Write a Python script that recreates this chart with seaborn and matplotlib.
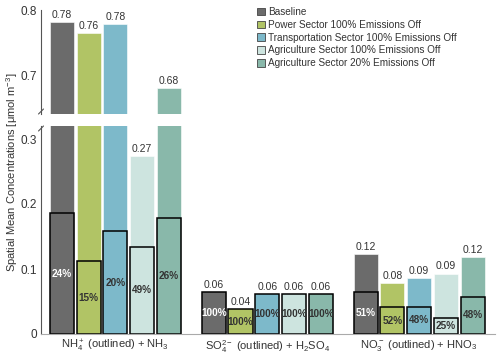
import pandas as pd
import matplotlib
matplotlib.use("Agg")
import matplotlib.pyplot as plt
from matplotlib.patches import Patch
import seaborn as sns

sns.set_style("white")
plt.rcParams["font.family"] = ["Liberation Sans", "DejaVu Sans"]
plt.rcParams["mathtext.fontset"] = "custom"
plt.rcParams["mathtext.rm"] = "Liberation Sans"
plt.rcParams["mathtext.it"] = "Liberation Sans:italic"
plt.rcParams["mathtext.bf"] = "Liberation Sans:bold"

species = ["NH$_4^+$ (outlined) + NH$_3$",
           "SO$_4^{2-}$ (outlined) + H$_2$SO$_4$",
           "NO$_3^-$ (outlined) + HNO$_3$"]
scenarios = ["Baseline",
             "Power Sector 100% Emissions Off",
             "Transportation Sector 100% Emissions Off",
             "Agriculture Sector 100% Emissions Off",
             "Agriculture Sector 20% Emissions Off"]
colors = ["#6b6b6b", "#b1c465", "#7db9ca", "#cde4df", "#89b8aa"]

# total (gas + particle) per species, one list per scenario
total = {
    "Baseline":                                  [0.782, 0.064, 0.123],
    "Power Sector 100% Emissions Off":           [0.764, 0.038, 0.079],
    "Transportation Sector 100% Emissions Off":  [0.778, 0.062, 0.086],
    "Agriculture Sector 100% Emissions Off":     [0.274, 0.062, 0.093],
    "Agriculture Sector 20% Emissions Off":      [0.680, 0.062, 0.118],
}
# particle part (outlined bars)
particle = {
    "Baseline":                                  [0.186, 0.064, 0.064],
    "Power Sector 100% Emissions Off":           [0.112, 0.038, 0.0415],
    "Transportation Sector 100% Emissions Off":  [0.158, 0.062, 0.042],
    "Agriculture Sector 100% Emissions Off":     [0.134, 0.062, 0.024],
    "Agriculture Sector 20% Emissions Off":      [0.178, 0.062, 0.057],
}
pct = {
    "Baseline":                                  ["24%", "100%", "51%"],
    "Power Sector 100% Emissions Off":           ["15%", "100%", "52%"],
    "Transportation Sector 100% Emissions Off":  ["20%", "100%", "48%"],
    "Agriculture Sector 100% Emissions Off":     ["49%", "100%", "25%"],
    "Agriculture Sector 20% Emissions Off":      ["26%", "100%", "48%"],
}

rows = []
for sc in scenarios:
    for i, sp in enumerate(species):
        rows.append({"species": sp, "scenario": sc,
                     "total": total[sc][i], "particle": particle[sc][i]})
df = pd.DataFrame(rows)

fig = plt.figure(figsize=(5, 3.62), dpi=100)
W, H = 500, 362
x0, x1 = 41, 495
ax_top = fig.add_axes([x0 / W, 1 - 114 / H, (x1 - x0) / W, 104 / H])
ax_bot = fig.add_axes([x0 / W, 1 - 334 / H, (x1 - x0) / W, 208 / H])

bar_kw = dict(x="species", hue="scenario", order=species, hue_order=scenarios,
              palette=colors, saturation=1, width=0.88, gap=0.1,
              legend=False, errorbar=None)

for ax in (ax_top, ax_bot):
    sns.barplot(data=df, y="total", ax=ax, edgecolor="white", linewidth=0.4, **bar_kw)
sns.barplot(data=df, y="particle", ax=ax_bot, edgecolor="black", linewidth=1.1, **bar_kw)

ax_top.set_ylim(0.64, 0.8)
ax_bot.set_ylim(0, 0.32)
for ax in (ax_top, ax_bot):
    ax.set_xlim(-0.49, 2.5)
    ax.set_xlabel("")
    ax.set_ylabel("")
    ax.spines["top"].set_visible(False)
    ax.spines["right"].set_visible(False)
    ax.spines["left"].set_color("#555555")
    ax.tick_params(axis="y", direction="in", length=3, color="#555555",
                   labelsize=8.5, labelcolor="#333333", pad=3)

ax_top.set_yticks([0.7, 0.8])
ax_top.set_yticklabels(["0.7", "0.8"])
ax_top.spines["bottom"].set_visible(False)
ax_top.set_xticks([])

ax_bot.set_yticks([0, 0.1, 0.2, 0.3])
ax_bot.set_yticklabels(["0", "0.1", "0.2", "0.3"])
ax_bot.spines["bottom"].set_color("#aaaaaa")
ax_bot.tick_params(axis="x", length=0, labelsize=8, labelcolor="#333333", pad=3)

# value labels on the totals and percentages inside outlined bars
n_sc = len(scenarios)
tot_bars = ax_bot.containers[:n_sc]
par_bars = ax_bot.containers[n_sc:]
for k, sc in enumerate(scenarios):
    for j, sp in enumerate(species):
        b = tot_bars[k][j]
        xc = b.get_x() + b.get_width() / 2
        v = total[sc][j]
        target = ax_top if v > 0.32 else ax_bot
        target.annotate("%.2f" % v, (xc, v), xytext=(0, 1.5), textcoords="offset points",
                        ha="center", va="bottom", fontsize=7.5, color="#333333")
        p = particle[sc][j]
        ax_bot.text(xc, p / 2, pct[sc][j], ha="center", va="center", fontsize=7.2,
                    fontweight="bold", color="white" if k == 0 else "#333333")

# axis break marks
for ax, yy, h in ((ax_top, 0.0, 104), (ax_bot, 1.0, 208)):
    dx, dy = 2.5 / (x1 - x0), 2.5 / h
    off = 2.5 / h if ax is ax_top else -2.5 / h
    ax.plot([-dx, dx], [yy + off - dy, yy + off + dy], transform=ax.transAxes,
            color="#555555", lw=0.8, clip_on=False)

fig.text(12 / W, 1 - 172 / H, "Spatial Mean Concentrations [μmol m$^{-3}$]",
         rotation=90, ha="center", va="center", fontsize=8, color="#333333")

handles = [Patch(facecolor=c, edgecolor="#444444", linewidth=0.6) for c in colors]
fig.legend(handles, scenarios, loc="upper left", bbox_to_anchor=(255 / W, 1 - 5 / H),
           frameon=False, fontsize=7.2, handlelength=0.8, handleheight=0.8,
           handletextpad=0.35, labelspacing=0.28, borderaxespad=0, borderpad=0.2,
           labelcolor="#333333")

fig.savefig("out.png", dpi=100)
